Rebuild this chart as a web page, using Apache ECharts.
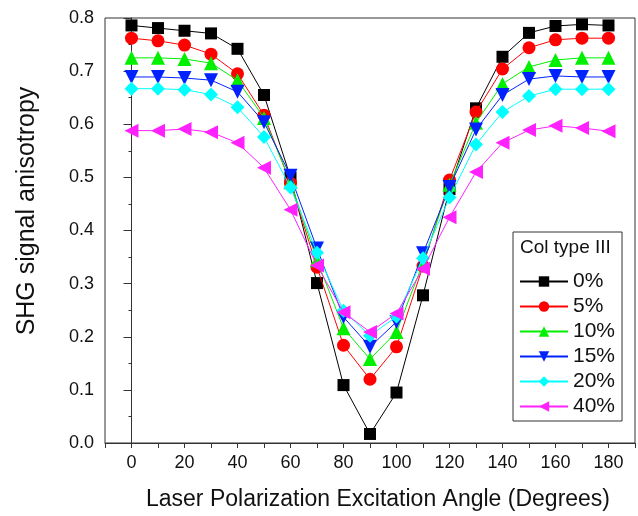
<!DOCTYPE html>
<html>
<head>
<meta charset="utf-8">
<script src="https://cdn.jsdelivr.net/npm/echarts@6/dist/echarts.min.js"></script>
<style>html,body{margin:0;padding:0;background:#fff}#c{width:638px;height:516px}</style>
</head>
<body>
<div id="c"></div>
<script>
const angles = [0,10,20,30,40,50,60,70,80,90,100,110,120,130,140,150,160,170,180];
const s0  = [0.786,0.781,0.776,0.771,0.742,0.655,0.500,0.301,0.109,0.017,0.095,0.278,0.478,0.630,0.727,0.772,0.785,0.788,0.786];
const s5  = [0.762,0.757,0.749,0.732,0.695,0.617,0.489,0.331,0.184,0.120,0.181,0.333,0.495,0.623,0.704,0.744,0.759,0.762,0.762];
const s10 = [0.725,0.725,0.723,0.715,0.683,0.612,0.491,0.344,0.216,0.158,0.209,0.339,0.486,0.603,0.676,0.708,0.721,0.725,0.725];
const s15 = [0.689,0.689,0.687,0.683,0.661,0.604,0.503,0.366,0.237,0.181,0.228,0.357,0.482,0.590,0.655,0.685,0.691,0.689,0.689];
const s20 = [0.667,0.667,0.665,0.656,0.632,0.576,0.481,0.358,0.249,0.202,0.238,0.348,0.462,0.562,0.623,0.653,0.666,0.666,0.666];
const s40 = [0.588,0.588,0.591,0.585,0.565,0.518,0.439,0.334,0.246,0.209,0.244,0.328,0.425,0.510,0.565,0.589,0.597,0.593,0.587];
const seriesNames = ['0%','5%','10%','15%','20%','40%'];
const seriesData = [s0,s5,s10,s15,s20,s40];
const colors = ['#000000','#ff0000','#00f000','#0022ff','#00ffff','#ff22ff'];
const symbols = ['rect','circle','triangle','triangle','diamond','triangle'];
const rotates = [0,0,0,180,0,90];
const sizes = [12,13,14,14,14,14];
const legendTitle = 'Col type III';
const xTitle = 'Laser Polarization Excitation Angle (Degrees)';
const yTitle = 'SHG signal anisotropy';

const FONT = '"Liberation Sans", Arial, sans-serif';
const chart = echarts.init(document.getElementById('c'), null, {renderer:'canvas'});
const series = seriesNames.map((n,i)=>({
  name:n, type:'line',
  data: angles.map((a,j)=>[a, seriesData[i][j]]),
  symbol: symbols[i], symbolSize: sizes[i], symbolRotate: rotates[i],
  lineStyle:{color:colors[i], width:1},
  itemStyle:{color:colors[i]},
  animation:false, z: 2+i
}));
chart.setOption({
  animation:false,
  grid:{left:105, top:18, right:-5, bottom:73, show:true, borderColor:'#333', borderWidth:1},
  xAxis:{type:'value', min:-10, max:190, interval:10,
    axisLine:{lineStyle:{color:'#333'}},
    axisTick:{show:true, length:5, inside:false, lineStyle:{color:'#333'}},
    splitLine:{show:false},
    axisLabel:{fontFamily:FONT, fontSize:18, color:'#111', margin:11,
      formatter:v=> (v>=0 && v<=180 && v%20===0) ? String(v) : ''},
    name:xTitle, nameLocation:'middle', nameGap:45,
    nameTextStyle:{fontFamily:FONT, fontSize:23, color:'#111', padding:[0,0,0,16]}
  },
  yAxis:{type:'value', min:0, max:0.8, interval:0.1,
    axisLine:{show:true, lineStyle:{color:'#333'}},
    axisTick:{show:true, length:8, inside:false, lineStyle:{color:'#333'}},
    minorTick:{show:true, splitNumber:2, length:3, lineStyle:{color:'#333'}},
    splitLine:{show:false},
    axisLabel:{fontFamily:FONT, fontSize:18, color:'#111', margin:11, formatter:v=>v.toFixed(1)}
  },
  legend:{orient:'vertical', left:513, top:232, itemWidth:48, itemHeight:13, itemGap:4,
    padding:[39,7,4,6], borderColor:'#333', borderWidth:1, backgroundColor:'#fff',
    textStyle:{fontFamily:FONT, fontSize:21, color:'#111'},
    data:seriesNames},
  graphic:[
    {type:'text', left:520, top:238, z:100, style:{text:legendTitle, font:'19px '+FONT, fill:'#111'}},
    {type:'text', x:27, y:211, rotation:Math.PI/2, z:100,
      style:{text:yTitle, font:'25px '+FONT, fill:'#111', align:'center', verticalAlign:'middle'}}
  ],
  series:series
});
</script>
</body>
</html>
